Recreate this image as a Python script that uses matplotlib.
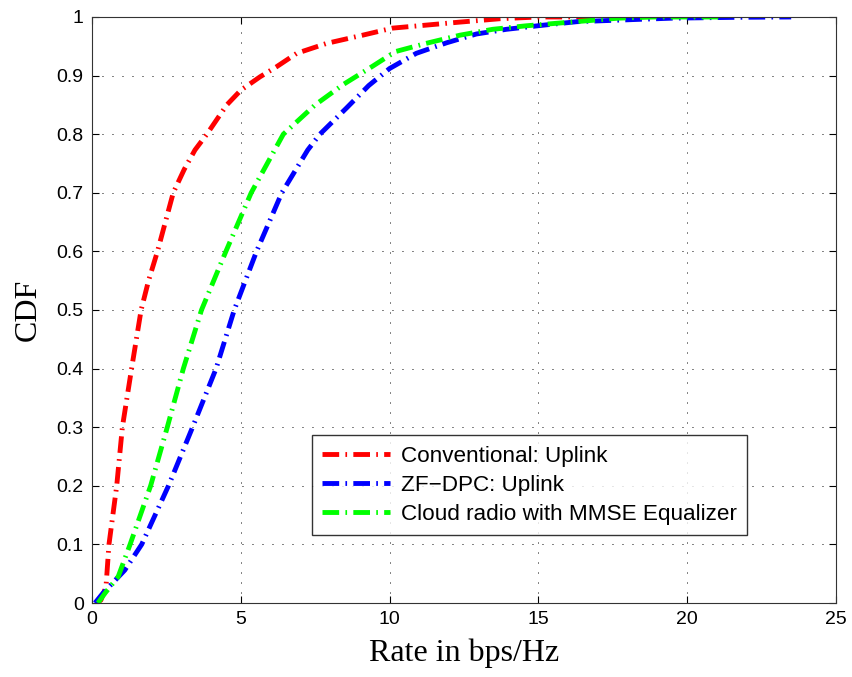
import matplotlib
matplotlib.use("Agg")
import matplotlib.pyplot as plt

# curvas (taxa em bps/Hz, CDF)
x_conv = [0.15, 0.3, 0.47, 0.57, 0.7, 0.83, 1.02, 1.33, 1.65, 1.9, 2.2, 2.73, 3.1, 3.46, 3.86,
          4.53, 5.0, 5.65, 6.2, 6.88, 7.89, 9.1, 10.1, 11.2, 12.3, 13.7, 15.0, 16.9]
y_conv = [0.0, 0.005, 0.028, 0.1, 0.15, 0.2, 0.3, 0.4, 0.5, 0.55, 0.6, 0.7, 0.74, 0.773, 0.8,
          0.85, 0.875, 0.898, 0.915, 0.938, 0.955, 0.969, 0.981, 0.986, 0.991, 0.997, 1.0, 1.0]

x_zf = [0.1, 0.37, 1.1, 1.67, 2.57, 3.38, 4.17, 4.78, 5.53, 6.38, 7.25, 7.66, 8.56, 9.3, 10.0,
        10.9, 11.92, 12.92, 13.93, 15.16, 16.3, 18.4, 19.5, 21.8, 23.5]
y_zf = [0.0, 0.017, 0.056, 0.1, 0.2, 0.3, 0.4, 0.5, 0.6, 0.7, 0.773, 0.8, 0.845, 0.883, 0.912,
        0.938, 0.956, 0.971, 0.979, 0.986, 0.992, 0.996, 0.998, 0.9995, 1.0]

x_cloud = [0.2, 0.44, 0.88, 1.28, 1.97, 2.53, 3.07, 3.68, 4.5, 5.35, 6.43, 7.5, 8.45, 9.4,
           10.2, 11.23, 12.37, 13.47, 14.6, 16.5, 17.7, 18.9, 21.2]
y_cloud = [0.0, 0.017, 0.045, 0.1, 0.2, 0.3, 0.4, 0.5, 0.6, 0.7, 0.8, 0.85, 0.885, 0.915,
           0.941, 0.955, 0.969, 0.979, 0.985, 0.993, 0.998, 1.0, 1.0]

legendas = ['Conventional: Uplink', 'ZF\u2212DPC: Uplink', 'Cloud radio with MMSE Equalizer']
x_ticks = [0, 5, 10, 15, 20, 25]
y_ticks = [0, 0.1, 0.2, 0.3, 0.4, 0.5, 0.6, 0.7, 0.8, 0.9, 1]
y_ticklabels = ['0', '0.1', '0.2', '0.3', '0.4', '0.5', '0.6', '0.7', '0.8', '0.9', '1']

plt.rcParams['font.family'] = ['Liberation Sans', 'DejaVu Sans']
plt.rcParams['lines.scale_dashes'] = False

fig = plt.figure(figsize=(8.52, 6.77), dpi=100)
ax = fig.add_axes([0.108, 0.1093, 0.873, 0.8656])

traco = (0, (12, 4.5, 1.2, 4.5))
ax.plot(x_conv, y_conv, color=(1, 0, 0), lw=3.5, linestyle=traco, dash_capstyle='butt', label=legendas[0])
ax.plot(x_zf, y_zf, color=(0, 0, 1), lw=3.5, linestyle=traco, dash_capstyle='butt', label=legendas[1])
ax.plot(x_cloud, y_cloud, color=(0, 1, 0), lw=3.5, linestyle=traco, dash_capstyle='butt', label=legendas[2])

ax.set_xlim(0, 25)
ax.set_ylim(0, 1)
ax.set_xticks(x_ticks)
ax.set_yticks(y_ticks)
ax.set_yticklabels(y_ticklabels)
ax.tick_params(direction='in', length=5, width=0.8, labelsize=14, top=True, right=True, pad=6)
ax.grid(True, color='black', linewidth=0.7, linestyle=(0, (0.7, 6.5)))
for s in ax.spines.values():
    s.set_linewidth(0.8)
    s.set_color('#333333')

ax.set_xlabel('Rate in bps/Hz', family='Liberation Serif', fontsize=23, labelpad=7)
ax.set_ylabel('CDF', family='Liberation Serif', fontsize=23, labelpad=10)

leg = ax.legend(loc='upper left', bbox_to_anchor=(0.296, 0.286), fontsize=16.2, frameon=True,
                fancybox=False, edgecolor='black', handlelength=3.0, handletextpad=0.5,
                labelspacing=0.36, borderpad=0.45, borderaxespad=0)
leg.get_frame().set_linewidth(1.0)

plt.savefig('out.png', dpi=100)
